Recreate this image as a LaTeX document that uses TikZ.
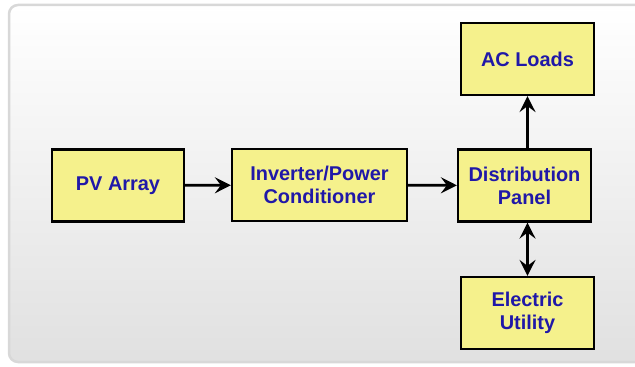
\documentclass[tikz,border=0pt]{standalone}
\usepackage{fontspec}
\setmainfont{Liberation Sans}
\usetikzlibrary{arrows.meta}

\definecolor{boxyellow}{RGB}{245,241,140}
\definecolor{textblue}{RGB}{32,24,168}
\definecolor{panelgray}{RGB}{216,216,216}

\begin{document}
\begin{tikzpicture}[x=1bp, y=1bp,
    font=\fontsize{20}{23}\selectfont\bfseries,
    block/.style={draw=black, line width=2.2bp, fill=boxyellow, text=textblue,
                  align=center, inner sep=0pt, minimum height=72bp},
    flow/.style={line width=2.8bp, -{Stealth[length=16bp, width=16bp, inset=6bp]}},
    twoway/.style={line width=2.8bp, {Stealth[length=16bp, width=16bp, inset=6bp]}-{Stealth[length=16bp, width=16bp, inset=6bp]}}]
                \useasboundingbox (0,0) rectangle (635,366);

                % Panel (grey gradient)
                \shade[top color=white, bottom color=gray!24, rounded corners=9bp]
                    (9,4) rectangle (660,361);
                \draw[panelgray, line width=2.5bp, rounded corners=9bp]
                    (9,4) rectangle (660,361);

                % --- BLOCKS ---
                \node[block, minimum width=132bp] (pv) at (118,180.5) {PV Array};
                \node[block, minimum width=175bp] (inverter) at (319.5,181) {Inverter/Power\\Conditioner};
                \node[block, minimum width=133bp] (panel) at (524.5,180.5) {Distribution\\Panel};
                \node[block, minimum width=133bp] (loads) at (527.5,307) {AC Loads};
                \node[block, minimum width=133bp] (utility) at (527.5,53) {Electric\\Utility};

                % --- FLOW ---
                \draw[flow] (pv) -- (inverter);
                \draw[flow] (inverter) -- (panel);
                \draw[flow] (loads.south |- panel.north) -- (loads.south);
                \draw[twoway] (utility.north |- panel.south) -- (utility.north);
            \end{tikzpicture}
\end{document}
